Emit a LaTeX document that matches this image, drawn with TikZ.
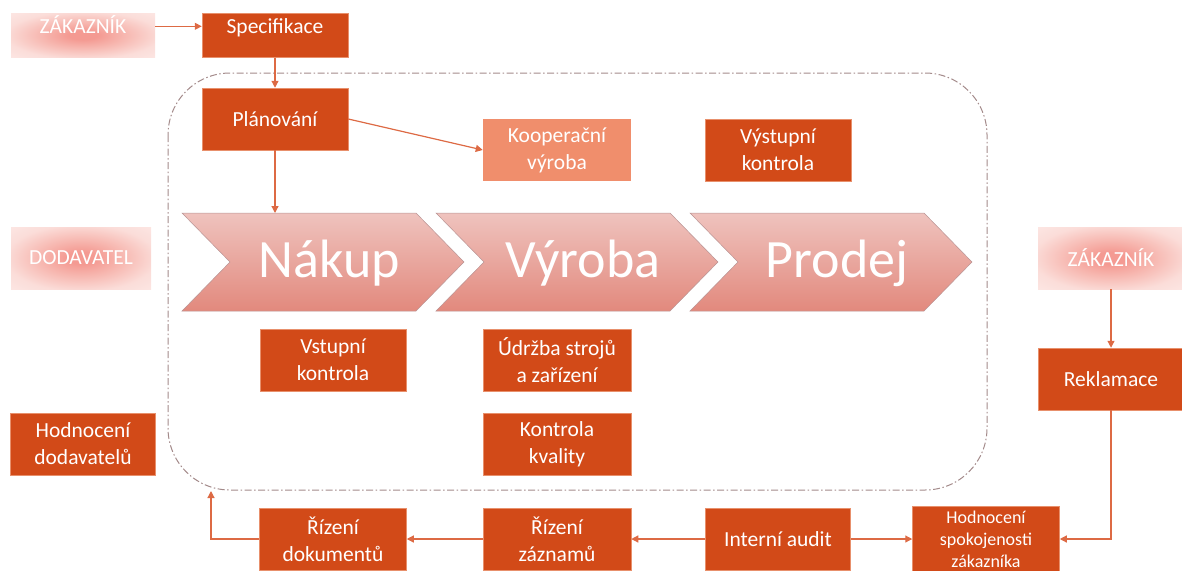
\documentclass[tikz,border=0pt]{standalone}
\usepackage{fontspec}
\setmainfont{Carlito}
\usetikzlibrary{arrows.meta,calc}
\definecolor{boxc}{HTML}{D24A18}
\definecolor{boxedge}{HTML}{E8906C}
\definecolor{koopc}{HTML}{F08E6C}
\definecolor{arrc}{HTML}{DD6A44}
\definecolor{dashc}{HTML}{A38A8A}
\definecolor{pinkc}{HTML}{F49A92}
\definecolor{pinkm}{HTML}{F7B9B2}
\definecolor{pinke}{HTML}{FBDDD9}
\definecolor{pinkf}{HTML}{FCE6E3}
\definecolor{chevt}{HTML}{EFC3BE}
\definecolor{chevb}{HTML}{E2897D}
\definecolor{chevd}{HTML}{B99494}
\pgfdeclareradialshading{pinkglow}{\pgfpoint{0bp}{0bp}}{color(0bp)=(pinkc); color(5bp)=(pinkc); color(15bp)=(pinkm); color(27bp)=(pinke); color(36bp)=(pinkf); color(50bp)=(pinkf)}
\tikzset{
  obox/.style={fill=boxc, draw=boxedge, line width=0.5pt, text=white, inner sep=0pt, align=center,
    font=\fontsize{21.5}{27}\selectfont},
  pbox/.style={shade, shading=pinkglow, text=white, inner sep=0pt, align=center,
    font=\fontsize{21.5}{27}\selectfont},
  conn/.style={draw=arrc, line width=1.2pt, -{Triangle[length=7pt,width=7pt]}},
  chev/.style={top color=chevt, bottom color=chevb, draw=chevd, line width=0.5pt},
  chevtxt/.style={text=white, font=\fontsize{54}{60}\selectfont, anchor=base, inner sep=0pt},
  frame/.style={draw=dashc, line width=1pt, dash pattern=on 7pt off 2.5pt on 1.5pt off 2.5pt, rounded corners=62pt}
}
\begin{document}
\begin{tikzpicture}[x=1pt,y=-1pt]
\useasboundingbox (0,0) rectangle (1182,570);
\draw[frame] (168,73) rectangle (987,490);
% chevrons
\foreach \L in {182,436,690}
  \draw[chev] (\L,213) -- ++(234,0) -- ++(48,49) -- ++(-48,49) -- ++(-234,0) -- ++(48,-49) -- cycle;
\node[chevtxt] (nakup) at (329,277) {Nákup};
\node[chevtxt] (vyroba) at (583,277) {Výroba};
\node[chevtxt] (prodej) at (837,277) {Prodej};
\coordinate (nakuptop) at (275,213);
% boxes
\node[pbox, anchor=north, minimum width=144pt, text height=20pt, text depth=24pt] (zak1) at (83,13) {ZÁKAZNÍK};
\node[obox, anchor=north, minimum width=146pt, text height=20pt, text depth=24pt] (spec) at (275,13) {Specifikace};
\node[obox, minimum width=146pt, minimum height=62pt] (plan) at (275,119) {Plánování};
\node[obox, fill=koopc, draw=none, minimum width=148pt, minimum height=62pt] (koop) at (557,150) {Kooperační\\výroba};
\node[obox, minimum width=146pt, minimum height=62pt] (vyst) at (778,150) {Výstupní\\kontrola};
\node[pbox, minimum width=140pt, minimum height=62pt] (dod) at (81,258) {DODAVATEL};
\node[pbox, minimum width=146pt, minimum height=62pt] (zak2) at (1111,258) {ZÁKAZNÍK};
\node[obox, minimum width=146pt, minimum height=62pt] (vstup) at (333,360) {Vstupní\\kontrola};
\node[obox, minimum width=148pt, minimum height=62pt] (udrz) at (557,360) {Údržba strojů\\a zařízení};
\node[obox, minimum width=148pt, minimum height=62pt] (kval) at (557,444) {Kontrola\\kvality};
\node[obox, minimum width=145pt, minimum height=62pt] (hdod) at (83,444) {Hodnocení\\dodavatelů};
\node[obox, minimum width=146pt, minimum height=62pt] (rek) at (1111,379) {Reklamace};
\node[obox, minimum width=147pt, minimum height=62pt] (rdok) at (333,539) {Řízení\\dokumentů};
\node[obox, minimum width=148pt, minimum height=62pt] (rzaz) at (557,539) {Řízení\\záznamů};
\node[obox, minimum width=145pt, minimum height=62pt] (audit) at (778,539) {Interní audit};
\node[obox, minimum width=147pt, minimum height=66pt, font=\fontsize{18}{22}\selectfont] (hspok) at (986,539) {Hodnocení\\spokojenosti\\zákazníka};
\coordinate (frameBL) at (211,491);
\coordinate (za) at ($(zak1.north east)!0.3!(zak1.south east)$);
% connectors
\draw[conn] (za) -- (za -| spec.west);
\draw[conn] (spec.south) -- (plan.north);
\draw[conn] (plan.south) -- (nakuptop);
\draw[conn] (plan.east) -- (koop.west);
\draw[conn] (zak2.south) -- (rek.north);
\draw[conn] (rek.south) |- (hspok.east);
\draw[conn] (audit.east) -- (hspok.west);
\draw[conn] (audit.west) -- (rzaz.east);
\draw[conn] (rzaz.west) -- (rdok.east);
\draw[conn] (rdok.west) -| (frameBL);
\end{tikzpicture}
\end{document}
